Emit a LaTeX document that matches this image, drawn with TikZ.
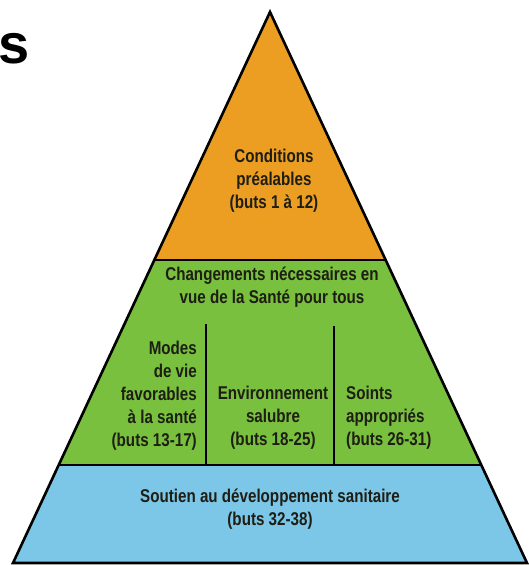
\documentclass[tikz,border=0pt]{standalone}
\usepackage{fontspec}
\setmainfont{Liberation Sans}
\newfontfamily\labfont[FakeStretch=0.82]{Liberation Sans}
\definecolor{orangefill}{RGB}{236,158,34}
\definecolor{greenfill}{RGB}{120,192,62}
\definecolor{bluefill}{RGB}{124,198,232}
\definecolor{txtdark}{RGB}{30,30,20}
\tikzset{
  lab/.style={font=\labfont\bfseries\fontsize{18.5}{23}\selectfont, text=txtdark, inner sep=0pt, align=center},
  outline/.style={draw=black, line width=2.6pt, line join=miter},
  divider/.style={draw=black, line width=2pt}
}
\begin{document}
\begin{tikzpicture}[x=1pt,y=-1pt]
\useasboundingbox (0,0) rectangle (528,565);
\coordinate (apex) at (270,12);
\coordinate (bl) at (13,563);
\coordinate (br) at (527,563);
\begin{scope}
  \clip (apex) -- (br) -- (bl) -- cycle;
  \fill[orangefill] (0,0) rectangle (528,260);
  \fill[greenfill] (0,260) rectangle (528,465);
  \fill[bluefill] (0,465) rectangle (528,565);
\end{scope}
\draw[outline] (154.3,260) -- (385.7,260);
\draw[outline] (58.7,465) -- (481.3,465);
\draw[divider] (206,324) -- (206,465);
\draw[divider] (334,326) -- (334,465);
\draw[outline] (apex) -- (br) -- (bl) -- cycle;
\node[lab] (cond) at (274,181) {Conditions\\pr\'ealables\\(buts 1 \`a 12)};
\node[lab] (chg) at (272,287) {Changements n\'ecessaires en\\vue de la Sant\'e pour tous};
\node[lab, align=right, anchor=north east] (modes) at (197,341) {Modes\\de vie\\favorables\\\`a la sant\'e\\(buts 13-17)};
\node[lab, anchor=north] (env) at (273,386) {Environnement\\salubre\\(buts 18-25)};
\node[lab, align=left, anchor=north west] (soins) at (346,386) {Soints\\appropri\'es\\(buts 26-31)};
\node[lab] (sout) at (270,509) {Soutien au d\'eveloppement sanitaire\\(buts 32-38)};
\node[font=\bfseries\fontsize{56}{56}\selectfont, inner sep=0pt, anchor=base west] (s) at (-1.5,63) {s};
\end{tikzpicture}
\end{document}
